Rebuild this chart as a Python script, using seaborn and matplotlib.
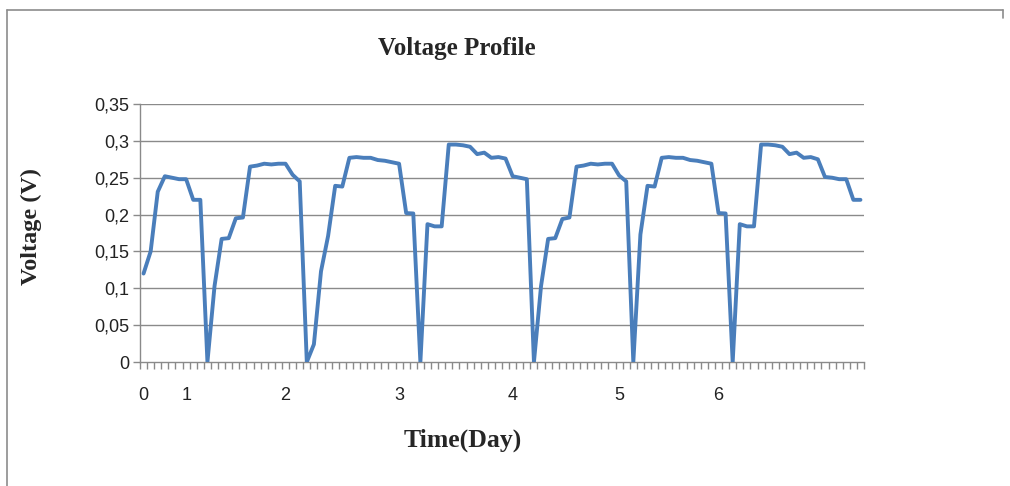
import numpy as np
import pandas as pd
import matplotlib
matplotlib.use("Agg")
import matplotlib.pyplot as plt
import seaborn as sns
from matplotlib.lines import Line2D

# ---- data ----
start_segment = [0.120, 0.150, 0.231, 0.252, 0.250, 0.248, 0.248, 0.220, 0.220]
cycle_a1 = [0.0, 0.103, 0.167, 0.168, 0.195, 0.196, 0.265, 0.2665, 0.269, 0.268, 0.269, 0.269, 0.254, 0.245]
cycle_b1 = [0.0, 0.024, 0.123, 0.171, 0.239, 0.238, 0.277, 0.278, 0.277, 0.277, 0.274, 0.273, 0.271, 0.269, 0.202, 0.2015]
cycle_c1 = [0.0, 0.187, 0.184, 0.184, 0.295, 0.295, 0.294, 0.292, 0.282, 0.284, 0.277, 0.278, 0.276, 0.252, 0.250, 0.248]
cycle_a2 = [0.0, 0.103, 0.167, 0.168, 0.194, 0.196, 0.265, 0.2665, 0.269, 0.268, 0.269, 0.269, 0.253, 0.245]
cycle_b2 = [0.0, 0.173, 0.239, 0.238, 0.277, 0.278, 0.277, 0.277, 0.274, 0.273, 0.271, 0.269, 0.202, 0.2015]
cycle_c2 = [0.0, 0.187, 0.184, 0.184, 0.295, 0.295, 0.294, 0.292, 0.282, 0.284, 0.277, 0.278, 0.275,
            0.251, 0.250, 0.248, 0.248, 0.220, 0.220]

voltage = start_segment + cycle_a1 + cycle_b1 + cycle_c1 + cycle_a2 + cycle_b2 + cycle_c2
n_points = len(voltage)

day_labels = ["0", "1", "2", "3", "4", "5", "6"]
day_label_index = [0, 6, 20, 36, 52, 67, 81]

y_ticks = [0, 0.05, 0.1, 0.15, 0.2, 0.25, 0.3, 0.35]
y_tick_labels = ["0", "0,05", "0,1", "0,15", "0,2", "0,25", "0,3", "0,35"]

categories = [""] * n_points
for lab, idx in zip(day_labels, day_label_index):
    categories[idx] = lab

df = pd.DataFrame({"pos": np.arange(n_points), "voltage": voltage})

# ---- styling ----
sns.set_theme(style="white")
plt.rcParams["font.family"] = ["Liberation Sans", "DejaVu Sans"]

W, H = 1010, 486
fig = plt.figure(figsize=(W / 100, H / 100), dpi=100)
ax = fig.add_axes([140 / W, 1 - 362 / H, 724 / W, 258 / H])

grid_col = "#8a8a8a"
for yt in y_ticks[1:]:
    ax.axhline(yt, color=grid_col, lw=1.0, zorder=1)

sns.lineplot(data=df, x="pos", y="voltage", ax=ax, color="#4A7EBB", lw=2.8, zorder=3)

ax.set_xlim(-0.5, n_points - 0.5)
ax.set_ylim(0, 0.35)

ax.set_yticks(y_ticks)
ax.set_yticklabels(y_tick_labels, fontsize=13, color="#222222")
ax.set_xticks(np.arange(n_points))
ax.set_xticklabels(categories, fontsize=13, color="#222222")
ax.set_xticks(np.arange(-0.5, n_points, 1), minor=True)
ax.tick_params(axis="x", which="major", length=0, pad=18)
ax.tick_params(axis="x", which="minor", length=5, width=1, color=grid_col, direction="out", bottom=True)
ax.tick_params(axis="y", which="major", length=5, width=1, color=grid_col, direction="out", left=True, pad=3)

for side in ["top", "right"]:
    ax.spines[side].set_visible(False)
for side in ["left", "bottom"]:
    ax.spines[side].set_color(grid_col)
    ax.spines[side].set_linewidth(1.0)

serif = ["Liberation Serif", "DejaVu Serif"]
ax.set_xlabel("Time(Day)", fontsize=18.5, fontweight="bold", family=serif)
ax.set_ylabel("Voltage (V)", fontsize=17.5, fontweight="bold", family=serif)
ax.xaxis.set_label_coords((463 - 140) / 724, (362 - 440) / 258)
ax.xaxis.label.set_va("center")
ax.yaxis.set_label_coords((31 - 140) / 724, (362 - 226) / 258)
ax.yaxis.label.set_va("center")

fig.text(457 / W, 1 - 48 / H, "Voltage Profile", fontsize=18, fontweight="bold",
         family=serif, ha="center", va="center")

# outer chart frame (left and top edges visible)
frame_col = "#8c8c8c"
fig.add_artist(Line2D([7 / W, 7 / W], [0, 1 - 10 / H], transform=fig.transFigure, color=frame_col, lw=1.2))
fig.add_artist(Line2D([7 / W, 1003 / W], [1 - 10 / H, 1 - 10 / H], transform=fig.transFigure, color=frame_col, lw=1.2))
fig.add_artist(Line2D([1003 / W, 1003 / W], [1 - 10 / H, 1 - 18 / H], transform=fig.transFigure, color=frame_col, lw=1.2))

fig.savefig("out.png", dpi=100)
